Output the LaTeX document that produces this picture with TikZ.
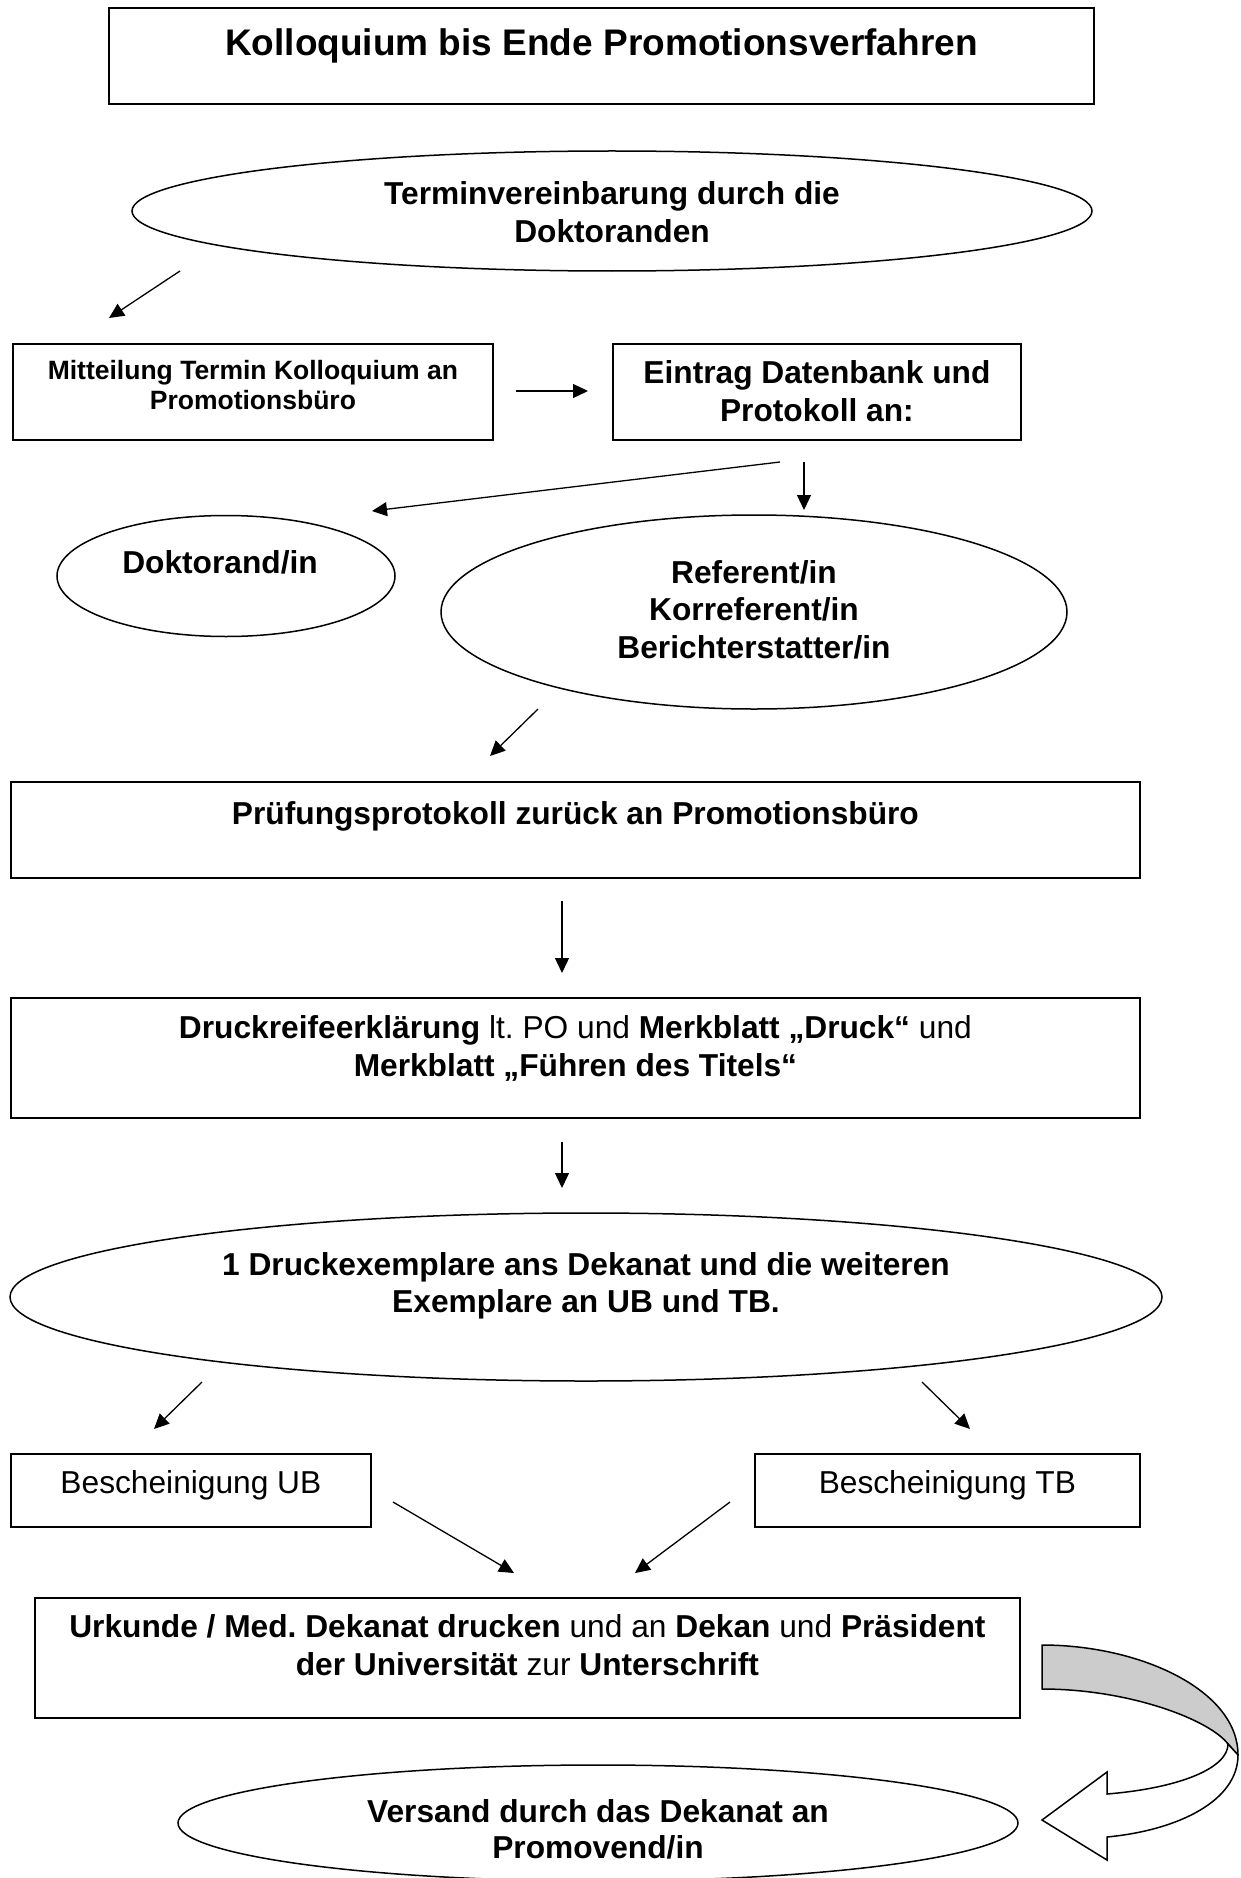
\documentclass[tikz,border=0pt]{standalone}
\usepackage{fontspec}
\setmainfont{Liberation Sans}
\usetikzlibrary{arrows.meta,shapes.geometric}
\definecolor{bandgray}{RGB}{204,204,204}
\newcommand{\mlines}[1]{\begin{tabular}[t]{@{}c@{}}#1\end{tabular}}
\frenchspacing
\begin{document}
\begin{tikzpicture}[x=1pt,y=-1pt,
  box/.style={draw,line width=1.8pt,rectangle,inner sep=0pt,anchor=north west},
  oval/.style={draw,line width=1.5pt,ellipse,inner sep=0pt},
  conn/.style={line width=1.3pt,-{Triangle[length=15pt,width=14pt]}},
  titlefont/.style={font=\fontsize{37}{43}\selectfont\bfseries\frenchspacing},
  bigb/.style={font=\fontsize{31.7}{37.5}\selectfont\bfseries\frenchspacing},
  bigr/.style={font=\fontsize{31.7}{37.5}\selectfont\frenchspacing},
  smallb/.style={font=\fontsize{26.5}{30}\selectfont\bfseries\frenchspacing}
]
\useasboundingbox (0,0) rectangle (1240,1878);
\fill[white] (0,0) rectangle (1240,1878);

% rectangles
\node[box,titlefont,minimum width=985pt,text height=48pt,text depth=48pt] (title) at (108,7)
  {Kolloquium bis Ende Promotionsverfahren};
\node[box,smallb,minimum width=480pt,text height=36pt,text depth=60pt] (mitteil) at (12,343)
  {\mlines{Mitteilung Termin Kolloquium an\\Promotionsbüro}};
\node[box,bigb,minimum width=408pt,text height=40pt,text depth=56pt] (eintrag) at (612,343)
  {\mlines{Eintrag Datenbank und\\Protokoll an:}};
\node[box,bigb,minimum width=1129pt,text height=43pt,text depth=53pt] (pruef) at (10,781)
  {Prüfungsprotokoll zurück an Promotionsbüro};
\node[box,bigr,minimum width=1129pt,text height=41pt,text depth=79pt] (druck) at (10,997)
  {\mlines{\textbf{Druckreifeerklärung} lt. PO und \textbf{Merkblatt „Druck“} und\\\textbf{Merkblatt „Führen des Titels“}}};
\node[box,bigr,minimum width=360pt,text height=40pt,text depth=33pt] (ub) at (10,1453)
  {Bescheinigung UB};
\node[box,bigr,minimum width=385pt,text height=40pt,text depth=33pt] (tb) at (754,1453)
  {Bescheinigung TB};
\node[box,bigr,minimum width=985pt,text height=40pt,text depth=80pt] (urkunde) at (34,1597)
  {\mlines{\textbf{Urkunde / Med. Dekanat drucken} und an \textbf{Dekan} und \textbf{Präsident}\\\textbf{der Universität} zur \textbf{Unterschrift}}};

% ellipses
\node[oval,bigb,minimum width=960pt,minimum height=120pt,text height=0pt,text depth=12pt] (termin) at (612,211)
  {\mlines{Terminvereinbarung durch die\\Doktoranden}};
\node[oval,bigb,minimum width=338pt,minimum height=121pt,text height=0pt,text depth=6pt] (doktorand) at (226,576)
  {Doktorand/in\hspace*{12pt}};
\node[oval,bigb,minimum width=626pt,minimum height=194pt,text height=0pt,text depth=58pt] (referent) at (754,612)
  {\mlines{Referent/in\\Korreferent/in\\Berichterstatter/in}};
\node[oval,bigb,minimum width=1152pt,minimum height=168pt,text height=0pt,text depth=44pt] (druckex) at (586,1297)
  {\mlines{1 Druckexemplare ans Dekanat und die weiteren\\Exemplare an UB und TB.}};
\node[oval,bigb,minimum width=840pt,minimum height=116pt,text height=0pt,text depth=2pt,font=\fontsize{31.7}{36}\selectfont\bfseries] (versand) at (598,1823)
  {\mlines{Versand durch das Dekanat an\\Promovend/in}};

% connector end points
\coordinate (a1s) at (180,271);  \coordinate (a1e) at (109,318);
\coordinate (a2s) at (516,391);  \coordinate (a2e) at (588,391);
\coordinate (a3s) at (804,462);  \coordinate (a3e) at (804,510);
\coordinate (a4s) at (780,462);  \coordinate (a4e) at (372,511);
\coordinate (a5s) at (538,709);  \coordinate (a5e) at (490,756);
\coordinate (a6s) at (562,901);  \coordinate (a6e) at (562,973);
\coordinate (a7s) at (562,1142); \coordinate (a7e) at (562,1188);
\coordinate (a8s) at (202,1382); \coordinate (a8e) at (154,1429);
\coordinate (a9s) at (922,1382); \coordinate (a9e) at (970,1429);
\coordinate (a10s) at (393,1502); \coordinate (a10e) at (514,1573);
\coordinate (a11s) at (730,1502); \coordinate (a11e) at (635,1573);

\foreach \i in {1,...,11} {\draw[conn] (a\i s) -- (a\i e);}

% curved block arrow
\filldraw[fill=bandgray,line width=1.5pt,line join=round]
  (1042,1645) .. controls (1140,1645) and (1238,1690) .. (1238,1755)
  -- (1228,1744) .. controls (1210,1720) and (1130,1689) .. (1042,1689) -- cycle;
\filldraw[fill=white,line width=1.5pt,line join=miter]
  (1228,1744) .. controls (1228,1768) and (1180,1788) .. (1107,1794)
  -- (1107,1772) -- (1042,1820) -- (1107,1860) -- (1107,1837)
  .. controls (1180,1830) and (1238,1800) .. (1238,1755) -- cycle;
\end{tikzpicture}
\end{document}
